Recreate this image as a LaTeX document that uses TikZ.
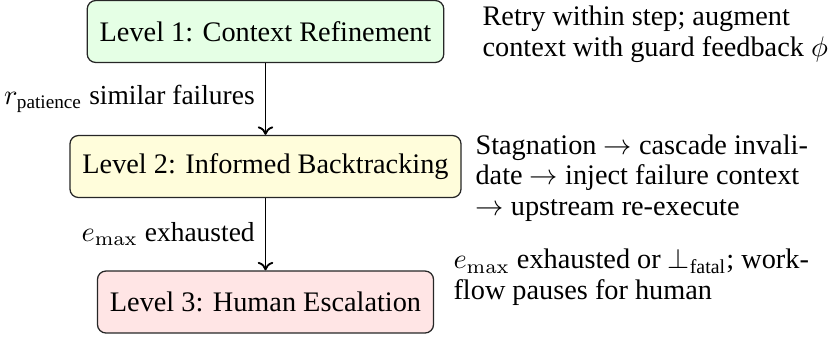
\documentclass[tikz,border=0pt]{standalone}
\usepackage{amsmath}
\usepackage[no-math]{fontspec}
\setmainfont{Liberation Serif}
\usetikzlibrary{arrows.meta}
\begin{document}
\begin{tikzpicture}[x=0.3534pt,y=-0.3534pt,
  level/.style={draw=black!85, rounded corners=3pt, minimum height=21.9pt,
    inner xsep=4.4pt, inner ysep=0pt, line width=0.45pt},
  note/.style={anchor=north west, inner sep=0pt, align=left,
    font=\fontsize{10}{10.8}\selectfont},
  flow/.style={-{To[length=3pt,width=5.5pt]}, line width=0.65pt},
  lab/.style={left, inner sep=3.5pt, font=\fontsize{9.7}{11}\selectfont}]
\useasboundingbox (0,0) rectangle (830,341);
\node[level, fill=green!10] (l1) at (265.5,31.5) {Level 1: Context Refinement};
\node[level, fill=yellow!14] (l2) at (265.5,166.5) {Level 2: Informed Backtracking};
\node[level, fill=red!10] (l3) at (265.5,302) {Level 3: Human Escalation};
\draw[flow] (l1.south) -- (l2.north) node[midway, lab] (c1) {$r_{\text{patience}}$ similar failures};
\draw[flow] (l2.south) -- (l3.north) node[midway, lab] (c2) {$e_{\max}$ exhausted};
\node[note] (n1) at (482,5.7) {Retry within step; augment\\context with guard feedback $\phi$};
\node[note] (n2) at (475,134) {Stagnation $\rightarrow$ cascade invali-\\date $\rightarrow$ inject failure context\\$\rightarrow$ upstream re-execute};
\node[note] (n3) at (453,248.7) {$e_{\max}$ exhausted or $\perp_{\text{fatal}}$; work-\\flow pauses for human};
\end{tikzpicture}
\end{document}
